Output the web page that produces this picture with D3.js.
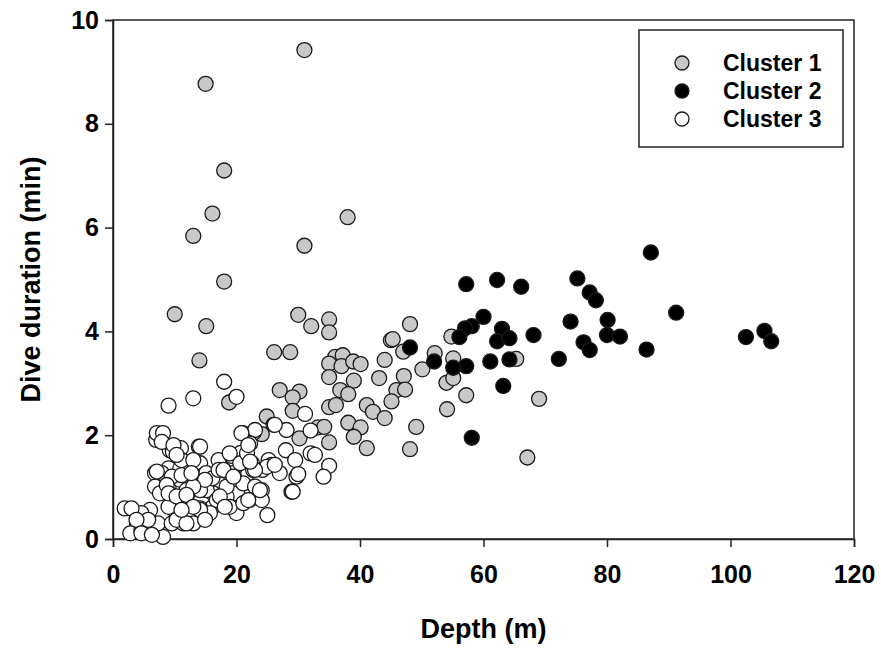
<!DOCTYPE html>
<html>
<head>
<meta charset="utf-8">
<script src="https://cdn.jsdelivr.net/npm/d3@7"></script>
<style>
  body { margin: 0; background: #fff; }
  text { font-family: Arial, "Liberation Sans", sans-serif; font-weight: bold; }
</style>
</head>
<body>
<svg width="881" height="650"></svg>
<script>
// depth (m), dive duration (min)
const cluster1 = [
    [31.0,9.42],[15.0,8.77],[18.0,7.10],[16.1,6.27],[38.0,6.20],[13.0,5.84],[31.0,5.65],[18.0,4.96],
    [10.0,4.33],[15.1,4.10],[14.0,3.44],[26.1,3.60],[28.7,3.60],[18.8,2.63],[27.0,2.87],[24.9,2.36],
    [30.0,4.32],[32.1,4.10],[35.0,4.23],[35.0,3.98],[45.0,3.83],[44.0,3.45],[36.0,3.51],[37.2,3.54],
    [35.0,3.38],[37.0,3.33],[38.9,3.42],[40.1,3.37],[35.0,3.12],[39.0,3.05],[43.1,3.10],[36.8,2.87],
    [38.1,2.79],[35.0,2.54],[36.1,2.58],[41.1,2.58],[42.1,2.45],[44.0,2.33],[38.1,2.24],[40.1,2.15],
    [39.0,1.97],[41.1,1.75],[30.2,2.84],[29.1,2.73],[29.1,2.47],[30.2,1.94],[33.2,2.15],[34.2,2.16],
    [35.0,1.86],[48.1,4.14],[45.3,3.85],[47.0,3.61],[54.8,3.90],[52.1,3.58],[55.1,3.48],[65.3,3.47],
    [50.1,3.27],[47.1,3.14],[54.0,3.01],[55.1,3.10],[45.9,2.87],[47.3,2.88],[45.1,2.65],[57.2,2.77],
    [54.1,2.50],[69.0,2.70],[49.1,2.16],[48.1,1.73],[67.1,1.57],[24.1,2.02],[22.8,2.05]
];

const cluster2 = [
    [57.2,4.91],[62.2,4.99],[66.1,4.86],[75.2,5.02],[77.2,4.75],[78.2,4.60],[87.1,5.52],[91.2,4.36],
    [60.0,4.28],[58.1,4.10],[57.0,4.06],[56.1,3.89],[63.0,4.05],[62.2,3.81],[64.2,3.87],[68.1,3.93],
    [74.1,4.19],[80.1,4.22],[80.0,3.93],[82.1,3.90],[76.2,3.79],[77.2,3.64],[86.4,3.65],[102.5,3.89],
    [105.5,4.01],[106.6,3.81],[72.2,3.47],[61.1,3.42],[64.2,3.46],[57.2,3.33],[55.1,3.30],[63.2,2.95],
    [58.1,1.95],[48.1,3.69],[52.0,3.42]
];

const cluster3 = [
    [18.0,3.03],[13.0,2.71],[9.0,2.57],[20.0,2.74],[7.0,1.91],[7.1,2.04],[8.1,2.04],[11.0,1.75],
    [9.2,1.71],[13.9,1.78],[14.1,1.46],[17.1,1.52],[18.0,1.32],[19.2,1.60],[20.7,1.66],[21.0,2.04],
    [23.0,2.10],[22.2,1.84],[26.0,2.20],[28.1,2.10],[28.0,1.71],[26.0,1.43],[24.2,1.33],[22.5,1.46],
    [21.9,1.27],[29.7,1.20],[28.9,0.91],[25.0,0.46],[24.1,0.94],[22.1,0.75],[20.0,0.50],[20.1,0.88],
    [18.4,0.82],[16.2,0.88],[15.2,0.94],[14.1,0.94],[16.1,0.61],[14.1,0.59],[11.9,0.50],[12.0,0.85],
    [10.0,0.56],[9.0,0.62],[9.0,1.01],[9.0,1.36],[10.9,1.36],[7.9,1.27],[6.8,1.27],[6.8,1.01],
    [7.6,0.88],[6.0,0.56],[4.6,0.50],[3.9,0.27],[2.8,0.11],[1.9,0.59],[3.0,0.59],[8.1,0.04],
    [6.0,0.24],[4.6,0.17],[7.3,0.30],[9.5,0.30],[11.4,0.30],[13.0,0.43],[10.9,1.14],[11.9,0.94],
    [14.0,1.20],[15.1,1.27],[16.1,1.17],[17.1,1.33],[19.4,1.27],[21.1,1.07],[22.7,1.33],[23.0,1.01],
    [18.4,1.01],[9.7,1.68],[11.1,1.52],[13.0,1.52],[7.9,1.87],[18.9,1.65],[20.6,1.46],[21.7,1.65],
    [25.2,1.52],[27.0,1.27],[29.5,1.52],[16.8,0.75],[15.7,0.50],[18.9,0.62],[21.1,0.69],[24.1,0.75],
    [20.8,2.04],[21.9,1.81],[14.1,1.78],[25.7,1.43],[24.9,1.39],[23.0,1.33],[22.2,1.49],[17.9,1.33],
    [19.5,1.20],[14.9,1.14],[13.0,1.01],[23.8,0.94],[21.9,0.75],[14.1,0.56],[13.0,0.30],[14.9,0.37],
    [17.3,0.82],[18.1,0.62],[31.1,2.41],[26.2,2.20],[32.0,2.09],[32.0,1.65],[32.7,1.62],[35.0,1.41],
    [26.2,1.43],[30.0,1.25],[34.1,1.20],[29.1,0.91],[9.8,1.81],[10.3,1.62],[7.1,1.30],[9.5,1.20],
    [11.1,1.23],[12.7,1.27],[8.7,1.04],[9.0,0.88],[10.3,0.82],[11.9,0.85],[13.0,0.62],[5.7,0.37],
    [3.8,0.37],[4.6,0.11],[6.3,0.08],[10.3,0.37],[11.9,0.30],[11.1,0.56]
];

const clusterNames = ["Cluster 1", "Cluster 2", "Cluster 3"];
const clusterFills = ["#c8c8c8", "#000000", "#ffffff"];
const xTicks = [0, 20, 40, 60, 80, 100, 120];
const yTicks = [0, 2, 4, 6, 8, 10];

const svg = d3.select("svg");
const plotLeft = 113, plotRight = 854, plotTop = 20, plotBottom = 539;

const x = d3.scaleLinear().domain([0, 120]).range([plotLeft, plotRight]);
const y = d3.scaleLinear().domain([0, 10]).range([plotBottom, plotTop]);

// frame
svg.append("rect")
    .attr("x", plotLeft).attr("y", plotTop)
    .attr("width", plotRight - plotLeft).attr("height", plotBottom - plotTop)
    .attr("fill", "none")
    .attr("stroke", "#222")
    .attr("stroke-width", 1.5);

const xAxis = svg.append("g")
    .attr("transform", `translate(0,${plotBottom})`)
    .call(d3.axisBottom(x).tickValues(xTicks).tickSize(8).tickPadding(18));

const yAxis = svg.append("g")
    .attr("transform", `translate(${plotLeft},0)`)
    .call(d3.axisLeft(y).tickValues(yTicks).tickSize(8).tickPadding(6));

[xAxis, yAxis].forEach(g => {
    g.select(".domain").attr("stroke", "#222").attr("stroke-width", 1.5);
    g.selectAll(".tick line").attr("stroke", "#222").attr("stroke-width", 1.5);
    g.selectAll(".tick text")
        .attr("fill", "#000")
        .style("font-size", "25px")
        .style("font-family", "Arial, 'Liberation Sans', sans-serif")
        .style("font-weight", "bold");
});

// points, drawn cluster 1 then 2 then 3
const clusters = [cluster1, cluster2, cluster3];
clusters.forEach((pts, i) => {
    svg.append("g")
        .selectAll("circle")
        .data(pts)
        .enter()
        .append("circle")
        .attr("cx", d => x(d[0]))
        .attr("cy", d => y(d[1]))
        .attr("r", 7.5)
        .attr("fill", clusterFills[i])
        .attr("stroke", "#1a1a1a")
        .attr("stroke-width", 1.3);
});

// axis titles
svg.append("text")
    .attr("x", (plotLeft + plotRight) / 2)
    .attr("y", 638)
    .attr("text-anchor", "middle")
    .attr("font-size", 27)
    .text("Depth (m)");

svg.append("text")
    .attr("transform", `translate(40,${(plotTop + plotBottom) / 2}) rotate(-90)`)
    .attr("text-anchor", "middle")
    .attr("font-size", 27)
    .text("Dive duration (min)");

// legend
const legend = svg.append("g");
legend.append("rect")
    .attr("x", 639).attr("y", 30)
    .attr("width", 204).attr("height", 117)
    .attr("fill", "#fff")
    .attr("stroke", "#222")
    .attr("stroke-width", 1.5);

const item = legend.selectAll(".item")
    .data(clusterNames)
    .enter()
    .append("g")
    .attr("transform", (d, i) => `translate(682,${63 + i * 28})`);

item.append("circle")
    .attr("r", 7)
    .attr("fill", (d, i) => clusterFills[i])
    .attr("stroke", "#1a1a1a")
    .attr("stroke-width", 1.3);

item.append("text")
    .attr("x", 41)
    .attr("y", 8)
    .attr("font-size", 23)
    .text(d => d);
</script>
</body>
</html>
